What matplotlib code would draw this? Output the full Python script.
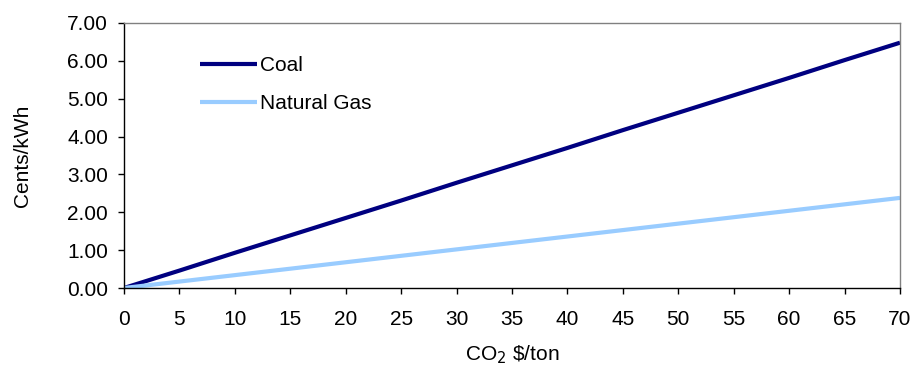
import matplotlib.pyplot as plt

plt.rcParams['font.family'] = ['Liberation Sans', 'DejaVu Sans']

co2_price = [0, 5, 10, 15, 20, 25, 30, 35, 40, 45, 50, 55, 60, 65, 70]
coal = [0.00, 0.46, 0.93, 1.39, 1.85, 2.31, 2.78, 3.24, 3.70, 4.17, 4.63, 5.09, 5.55, 6.02, 6.48]
natural_gas = [0.00, 0.17, 0.34, 0.51, 0.68, 0.85, 1.02, 1.19, 1.36, 1.53, 1.70, 1.87, 2.04, 2.21, 2.38]
y_ticks = [0, 1, 2, 3, 4, 5, 6, 7]

fs = 15

fig = plt.figure(figsize=(9.14, 3.66), dpi=100)
ax = fig.add_axes([124 / 914, 1 - 288 / 366, 776 / 914, 265 / 366])

ax.plot(co2_price, coal, color='#000080', lw=3.0, label='Coal', solid_capstyle='butt')
ax.plot(co2_price, natural_gas, color='#99ccff', lw=3.0, label='Natural Gas', solid_capstyle='butt')

ax.set_xlim(0, 70)
ax.set_ylim(0, 7)
ax.set_xticks(co2_price)
ax.set_yticks(y_ticks)
ax.set_yticklabels(['%.2f' % v for v in y_ticks])
ax.tick_params(labelsize=fs, direction='out', length=4.5, width=1)
ax.tick_params(axis='y', pad=7)
ax.tick_params(axis='x', pad=11)

for side in ['top', 'right']:
    ax.spines[side].set_color('#808080')
    ax.spines[side].set_linewidth(1)
for side in ['left', 'bottom']:
    ax.spines[side].set_color('black')
    ax.spines[side].set_linewidth(1)

ax.set_xlabel('CO$_2$ \\$/ton', fontsize=fs, labelpad=11)
ax.set_ylabel('Cents/kWh', fontsize=fs, labelpad=25)

ax.legend(loc='upper left', bbox_to_anchor=(0.098, 0.875), frameon=False, fontsize=fs,
          borderaxespad=0, borderpad=0, handlelength=2.75, handletextpad=0.15,
          labelspacing=0.9)

fig.savefig('out.png', dpi=100)
